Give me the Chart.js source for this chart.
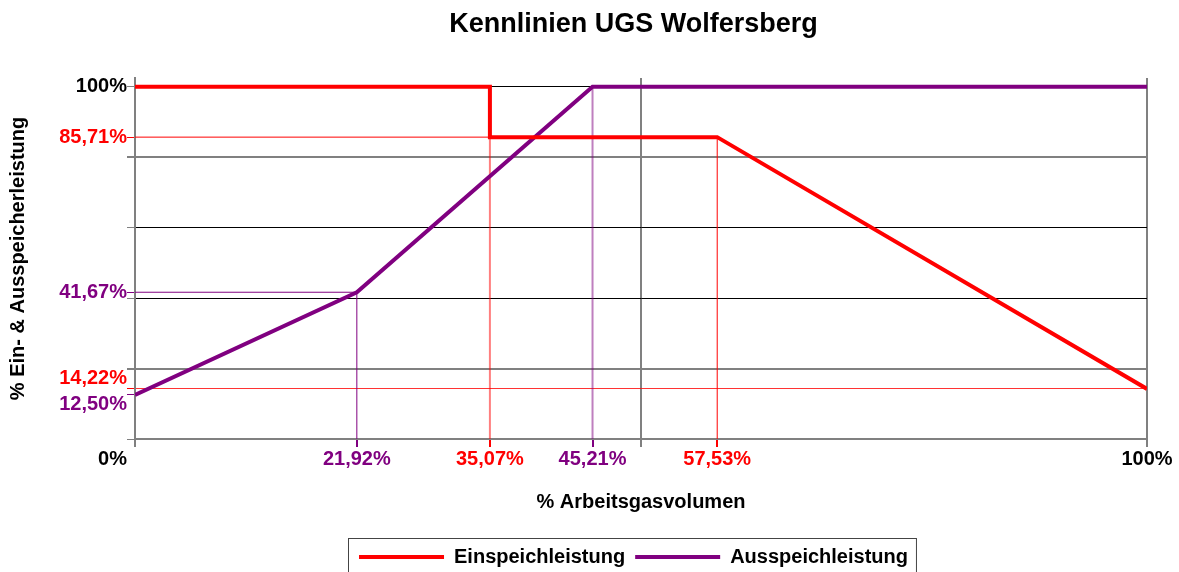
<!DOCTYPE html>
<html lang="de">
<head>
    <meta charset="UTF-8">
    <title>Kennlinien UGS Wolfersberg</title>
    <script src="https://cdn.jsdelivr.net/npm/chart.js"></script>
    <style>
        body { margin: 0; background: #fff; }
        #chart-container { width: 1179px; height: 572px; }
    </style>
</head>
<body>
    <div id="chart-container">
        <canvas id="myChart"></canvas>
    </div>
    <script>
        // Kennlinien: x = % Arbeitsgasvolumen, y = % Leistung
        const einX = [0, 35.07, 35.07, 57.53, 100];
        const einY = [100, 100, 85.71, 85.71, 14.22];
        const ausX = [0, 21.92, 45.21, 100];
        const ausY = [12.5, 41.67, 100, 100];

        // tick positions (20er Raster plus die Knickpunkte)
        const xTicks = [0, 21.92, 35.07, 45.21, 50, 57.53, 100];
        const yTicks = [0, 12.5, 14.22, 20, 40, 41.67, 60, 80, 85.71, 100];
        const einMarksX = [35.07, 57.53];
        const ausMarksX = [21.92, 45.21];
        const einMarksY = [14.22, 85.71];
        const ausMarksY = [12.5, 41.67];

        const RED = '#ff0000';
        const PURPLE = '#800080';
        const GREY = '#808080';
        const FONT = '"Liberation Sans", Arial, sans-serif';

        function pts(xs, ys) {
            return xs.map((x, i) => ({ x: x, y: ys[i] }));
        }
        function pct(v) {
            if (v === 0 || v === 100) return v + '%';
            return v.toFixed(2).replace('.', ',') + '%';
        }
        function markColor(v, einM, ausM, base) {
            if (einM.includes(v)) return RED;
            if (ausM.includes(v)) return PURPLE;
            return base;
        }
        function guide(points, color, width) {
            return {
                label: '',
                data: points,
                borderColor: color,
                backgroundColor: color,
                borderWidth: width,
                pointRadius: 0,
                tension: 0,
                fill: false
            };
        }

        // thin helper lines from the knee points down to the axes
        const guides = [
            guide([{ x: 0, y: einY[2] }, { x: einX[2], y: einY[2] }], RED, 1),
            guide([{ x: einX[1], y: 0 }, { x: einX[1], y: einY[2] }], 'rgba(255,0,0,0.5)', 2),
            guide([{ x: einX[3], y: 0 }, { x: einX[3], y: einY[3] }], RED, 1),
            guide([{ x: 0, y: ausY[1] }, { x: ausX[1], y: ausY[1] }], PURPLE, 1),
            guide([{ x: ausX[1], y: 0 }, { x: ausX[1], y: ausY[1] }], PURPLE, 1),
            guide([{ x: ausX[2], y: 0 }, { x: ausX[2], y: ausY[2] }], 'rgba(128,0,128,0.5)', 2)
        ];

        // title and legend sit centred over the plot, legend gets a frame
        const legendFrame = {
            id: 'legendFrame',
            afterLayout(chart) {
                const lg = chart.legend;
                lg.left += 60;
                lg.right += 60;
                const tb = chart.titleBlock;
                tb.left += 60;
                tb.right += 60;
            },
            afterDraw(chart) {
                const lg = chart.legend;
                const pad = lg.options.labels.padding;
                const w = lg.lineWidths[0];
                const x0 = (lg.left + pad + lg.right - w) / 2;
                const ctx = chart.ctx;
                ctx.save();
                ctx.strokeStyle = '#444';
                ctx.lineWidth = 1;
                ctx.strokeRect(Math.round(x0 - 11) + 0.5, Math.round(lg.top + 1) + 0.5, w - 2 + 11, 60);
                ctx.restore();
            }
        };

        const ctx = document.getElementById('myChart').getContext('2d');
        const myChart = new Chart(ctx, {
            type: 'line',
            data: {
                datasets: [{
                    label: 'Einspeichleistung',
                    data: pts(einX, einY),
                    borderColor: RED,
                    backgroundColor: RED,
                    borderWidth: 4,
                    pointRadius: 0,
                    tension: 0
                }, {
                    label: 'Ausspeichleistung',
                    data: pts(ausX, ausY),
                    borderColor: PURPLE,
                    backgroundColor: PURPLE,
                    borderWidth: 4,
                    pointRadius: 0,
                    tension: 0
                }].concat(guides)
            },
            options: {
                responsive: true,
                maintainAspectRatio: false,
                animation: false,
                layout: { padding: { left: 0, right: 32, top: 0, bottom: -5 } },
                scales: {
                    x: {
                        type: 'linear',
                        min: 0,
                        max: 100,
                        afterBuildTicks: s => { s.ticks = xTicks.map(v => ({ value: v })); },
                        afterFit: s => { s.height = 98; },
                        title: {
                            display: true,
                            text: '% Arbeitsgasvolumen',
                            color: '#000',
                            padding: { top: 0, bottom: 23 },
                            font: { family: FONT, size: 20, weight: 'bold' }
                        },
                        ticks: {
                            autoSkip: false,
                            maxRotation: 0,
                            padding: 0,
                            color: c => markColor(c.tick.value, einMarksX, ausMarksX, '#000'),
                            callback: v => (v === 0 || v === 50) ? '' : pct(v),
                            font: { family: FONT, size: 20, weight: 'bold' }
                        },
                        grid: {
                            tickLength: 8,
                            color: c => (c.tick && (c.tick.value === 50 || c.tick.value === 100)) ? GREY : 'rgba(0,0,0,0)',
                            tickColor: c => markColor(c.tick.value, einMarksX, ausMarksX, GREY),
                            lineWidth: 2
                        },
                        border: { color: GREY, width: 2 }
                    },
                    y: {
                        min: 0,
                        max: 102.5,
                        afterBuildTicks: s => { s.ticks = yTicks.map(v => ({ value: v })); },
                        afterFit: s => { s.width = 135; },
                        title: {
                            display: true,
                            text: '% Ein- & Ausspeicherleistung',
                            color: '#000',
                            padding: { top: 6, bottom: 0 },
                            font: { family: FONT, size: 20, weight: 'bold' }
                        },
                        ticks: {
                            autoSkip: false,
                            padding: 0,
                            color: c => markColor(c.tick.value, einMarksY, ausMarksY, '#000'),
                            callback: v => {
                                if (v === 0) return ['', '', '0%'];
                                if (v === einY[4]) return [pct(v), ''];
                                if (v === ausY[0]) return ['', pct(v)];
                                if (v === 100 || einMarksY.includes(v) || ausMarksY.includes(v)) return pct(v);
                                return '';
                            },
                            font: { family: FONT, size: 20, weight: 'bold', lineHeight: 1 }
                        },
                        grid: {
                            tickLength: 8,
                            color: c => {
                                const v = c.tick ? c.tick.value : null;
                                if (v === einY[4]) return 'rgba(255,0,0,0.8)';
                                if (v === 20 || v === 80) return GREY;
                                if (v === 40 || v === 60 || v === 100) return '#000';
                                return 'rgba(0,0,0,0)';
                            },
                            lineWidth: c => (c.tick && (c.tick.value === 20 || c.tick.value === 80)) ? 2 : 1,
                            tickColor: c => markColor(c.tick.value, einMarksY, ausMarksY, c.tick.value % 20 === 0 ? GREY : '#000')
                        },
                        border: { color: GREY, width: 2 }
                    }
                },
                plugins: {
                    title: {
                        display: true,
                        text: 'Kennlinien UGS Wolfersberg',
                        color: '#000',
                        padding: { top: 8, bottom: 37.6 },
                        font: { family: FONT, size: 27, weight: 'bold' }
                    },
                    legend: {
                        display: true,
                        position: 'bottom',
                        labels: {
                            color: '#000',
                            boxWidth: 85,
                            boxHeight: 4,
                            padding: 10,
                            font: { family: FONT, size: 20, weight: 'bold' },
                            filter: item => item.text !== '',
                            generateLabels: chart => {
                                const items = Chart.defaults.plugins.legend.labels.generateLabels(chart);
                                items.forEach(it => { it.lineWidth = 0; });
                                return items;
                            }
                        }
                    },
                    tooltip: { enabled: false }
                }
            },
            plugins: [legendFrame]
        });
    </script>
</body>
</html>
